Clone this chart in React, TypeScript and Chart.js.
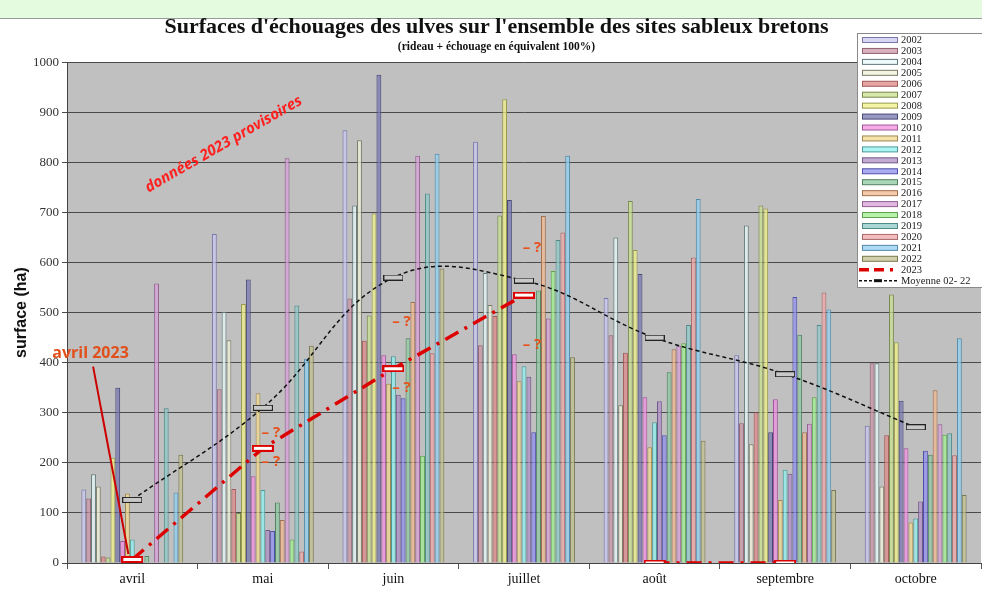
import React, { useEffect, useRef } from 'react';
import { Chart, registerables } from 'chart.js';

Chart.register(...registerables);

const months = ['avril', 'mai', 'juin', 'juillet', 'août', 'septembre', 'octobre'];
const years = ['2002', '2003', '2004', '2005', '2006', '2007', '2008', '2009', '2010', '2011', '2012',
  '2013', '2014', '2015', '2016', '2017', '2018', '2019', '2020', '2021', '2022'];

// values per month, one entry per year 2002..2022
const avrilValues = [147, 129, 177, 153, 13, 11, 210, 350, 44, 139, 47, 2, 2, 14, 0, 558, 1, 309, 0, 141, 216];
const maiValues = [657, 347, 501, 445, 148, 100, 517, 566, 173, 339, 146, 66, 64, 121, 86, 808, 47, 514, 23, 408, 434];
const juinValues = [864, 528, 714, 844, 444, 494, 698, 975, 415, 358, 413, 336, 329, 449, 521, 813, 214, 738, 419, 817, 588];
const juilletValues = [841, 435, 579, 515, 493, 694, 926, 725, 417, 363, 393, 372, 261, 544, 693, 488, 583, 645, 660, 813, 411];
const aoutValues = [529, 455, 650, 315, 420, 723, 625, 577, 331, 231, 281, 323, 255, 381, 427, 434, 439, 475, 610, 727, 244];
const septembreValues = [415, 279, 674, 237, 301, 714, 708, 261, 327, 126, 186, 178, 531, 456, 261, 278, 331, 475, 540, 506, 146];
const octobreValues = [274, 399, 399, 153, 255, 536, 441, 324, 229, 81, 89, 123, 224, 216, 345, 277, 256, 259, 215, 449, 136];

const values2023 = [7, 229, 388, 535, 0, 0, null];
const moyenneValues = [126, 310, 570, 564, 450, 377, 271];

const yTickValues = [0, 100, 200, 300, 400, 500, 600, 700, 800, 900, 1000];

// annotation texts "– ?" : month and level
const questionMonths = ['mai', 'mai', 'juin', 'juin', 'juillet', 'juillet'];
const questionLevels = [260, 202, 482, 350, 630, 436];

const fillColors = ['#c8c8f0', '#c898a8', '#e8f8f8', '#f0f0d8', '#e08888', '#c8e090', '#f0f088', '#7878b0',
  '#f090e0', '#f0d890', '#90f0f0', '#b090c8', '#9090f0', '#90c8a0', '#f0b890', '#d8a0d8', '#a0f090',
  '#90c8c8', '#f0a8a8', '#90d0f0', '#c0c090'];
const borderColors = ['#7878a8', '#906070', '#607878', '#787868', '#a05858', '#788848', '#989850', '#484878',
  '#a05898', '#a08850', '#509898', '#705888', '#5050a8', '#508060', '#a07050', '#906090', '#60a050',
  '#508888', '#a86868', '#5088a8', '#787850'];

const monthValues = [avrilValues, maiValues, juinValues, juilletValues, aoutValues, septembreValues, octobreValues];

function rectMarker(w: number, h: number, stroke: string, fill: string, lw: number) {
  const c = document.createElement('canvas');
  c.width = w;
  c.height = h;
  const x = c.getContext('2d')!;
  x.fillStyle = fill;
  x.fillRect(0, 0, w, h);
  x.strokeStyle = stroke;
  x.lineWidth = lw;
  x.strokeRect(lw / 2, lw / 2, w - lw, h - lw);
  return c;
}

export default function App() {
  const ref = useRef<HTMLCanvasElement>(null);

  useEffect(() => {
    if (!ref.current) return;
    const marker2023 = rectMarker(22, 7, '#dd0000', '#ffffff', 2);
    const markerMoy = rectMarker(20, 6, '#222222', '#c8c8c8', 1);

    const barSets = years.map((y, i) => ({
      type: 'bar' as const,
      label: y,
      data: monthValues.map((m) => m[i]),
      backgroundColor: fillColors[i] + 'c0',
      borderColor: borderColors[i],
      borderWidth: 1,
      order: 2,
      categoryPercentage: 0.78,
      barPercentage: 1.0,
    }));

    const line2023 = {
      type: 'line' as const,
      label: '2023',
      data: values2023,
      borderColor: '#dd0000',
      borderWidth: 3.5,
      borderDash: [15, 7, 3, 7],
      pointStyle: marker2023 as any,
      pointRadius: 6,
      tension: 0,
      order: 0,
      segment: {
        borderColor: (ctx: any) => (ctx.p0DataIndex === 3 ? 'rgba(0,0,0,0)' : undefined),
      },
    };

    const lineMoy = {
      type: 'line' as const,
      label: 'Moyenne 02- 22',
      data: moyenneValues,
      borderColor: '#111111',
      borderWidth: 1.5,
      borderDash: [4, 3],
      pointStyle: markerMoy as any,
      pointRadius: 6,
      tension: 0.4,
      order: 1,
    };

    const bgPlugin = {
      id: 'plotBg',
      beforeDraw(chart: any) {
        const { ctx, chartArea: a } = chart;
        ctx.save();
        ctx.fillStyle = '#c0c0c0';
        ctx.fillRect(a.left, a.top, a.right - a.left, a.bottom - a.top);
        ctx.restore();
      },
    };

    const annotPlugin = {
      id: 'annots',
      afterDatasetsDraw(chart: any) {
        const { ctx } = chart;
        const xs = chart.scales.x;
        const ys = chart.scales.y;
        ctx.save();
        ctx.fillStyle = '#e8501c';
        ctx.font = 'bold 15px "Open Sans", sans-serif';
        ctx.textAlign = 'center';
        ctx.textBaseline = 'middle';
        questionMonths.forEach((m, i) => {
          const x = xs.getPixelForValue(months.indexOf(m)) + 8;
          const y = ys.getPixelForValue(questionLevels[i]);
          ctx.fillText('– ?', x, y);
        });
        const ax = xs.getPixelForValue(-0.32);
        const ay = ys.getPixelForValue(418);
        ctx.fillStyle = '#e0501c';
        ctx.font = 'bold 16px "Open Sans", sans-serif';
        ctx.fillText('avril 2023', ax, ay);
        ctx.strokeStyle = '#cc0000';
        ctx.lineWidth = 2;
        ctx.beginPath();
        ctx.moveTo(xs.getPixelForValue(-0.3), ys.getPixelForValue(392));
        ctx.lineTo(xs.getPixelForValue(-0.03), ys.getPixelForValue(18));
        ctx.stroke();
        ctx.translate(xs.getPixelForValue(0.7), ys.getPixelForValue(836));
        ctx.rotate(-30 * Math.PI / 180);
        ctx.fillStyle = '#ff2020';
        ctx.font = 'italic bold 15px "Open Sans", sans-serif';
        ctx.fillText('données 2023 provisoires', 0, 0);
        ctx.restore();
      },
    };

    const legendPlugin = {
      id: 'floatLegend',
      afterDraw(chart: any) {
        const { ctx } = chart;
        const lx = 857;
        const ly = 33;
        const lw = 125;
        const lh = 254;
        const step = 10.94;
        ctx.save();
        ctx.fillStyle = '#ffffff';
        ctx.fillRect(lx, ly, lw, lh);
        ctx.strokeStyle = '#8a8a8a';
        ctx.lineWidth = 1;
        ctx.strokeRect(lx + 0.5, ly + 0.5, lw, lh);
        ctx.font = '10.5px "Liberation Serif", serif';
        ctx.textAlign = 'left';
        ctx.textBaseline = 'middle';
        years.forEach((yr, i) => {
          const y = ly + 7 + i * step;
          ctx.fillStyle = fillColors[i] + 'c0';
          ctx.fillRect(862, y - 2.5, 35, 5);
          ctx.strokeStyle = borderColors[i];
          ctx.strokeRect(862.5, y - 2.5, 35, 5);
          ctx.fillStyle = '#222';
          ctx.fillText(yr, 901, y + 0.5);
        });
        let y = ly + 7 + 21 * step;
        ctx.strokeStyle = '#dd0000';
        ctx.lineWidth = 3.5;
        ctx.setLineDash([10, 5, 10, 6, 3, 10]);
        ctx.beginPath();
        ctx.moveTo(859, y);
        ctx.lineTo(897, y);
        ctx.stroke();
        ctx.setLineDash([]);
        ctx.fillStyle = '#222';
        ctx.fillText('2023', 901, y + 0.5);
        y = ly + 7 + 22 * step;
        ctx.strokeStyle = '#111';
        ctx.lineWidth = 1.5;
        ctx.setLineDash([3, 2]);
        ctx.beginPath();
        ctx.moveTo(859, y);
        ctx.lineTo(897, y);
        ctx.stroke();
        ctx.setLineDash([]);
        ctx.fillStyle = '#111';
        ctx.fillRect(874, y - 1.5, 8, 3);
        ctx.fillStyle = '#222';
        ctx.fillText('Moyenne 02- 22', 901, y + 0.5);
        ctx.restore();
      },
    };

    const chart = new Chart(ref.current, {
      type: 'bar',
      data: {
        labels: months,
        datasets: [line2023 as any, lineMoy as any, ...barSets],
      },
      options: {
        animation: false,
        responsive: false,
        layout: { autoPadding: false, padding: { left: 12, right: 1, top: 0, bottom: 0 } },
        plugins: {
          legend: { display: false },
          tooltip: { enabled: false },
          title: {
            display: true,
            text: "Surfaces d'échouages des ulves sur l'ensemble des sites sableux bretons",
            font: { family: '"Liberation Serif", serif', size: 22, weight: 'bold' },
            color: '#111',
            padding: { top: 14, bottom: 0 },
          },
          subtitle: {
            display: true,
            text: '(rideau + échouage en équivalent 100%)',
            font: { family: '"Liberation Serif", serif', size: 11.5, weight: 'bold' },
            color: '#111',
            padding: { top: 0, bottom: 8 },
          },
        },
        scales: {
          x: {
            offset: true,
            grid: { display: true, drawOnChartArea: false, offset: true, tickLength: 6, color: '#555' },
            border: { display: true, color: '#444' },
            ticks: { font: { family: '"Liberation Serif", serif', size: 14 }, color: '#111', padding: 2 },
            afterFit: (s: any) => { s.height = 32; s.paddingLeft = 0; s.paddingRight = 0; },
          },
          y: {
            min: 0,
            max: 1000,
            afterBuildTicks: (s: any) => { s.ticks = yTickValues.map((v) => ({ value: v })); },
            grid: { color: '#4a4a4a', tickLength: 5 },
            border: { display: true, color: '#444' },
            ticks: {
              font: { family: '"Liberation Serif", serif', size: 13 },
              color: '#333',
              padding: 3,
              callback: (v: any) => String(v),
            },
            title: {
              display: true,
              text: 'surface (ha)',
              font: { family: '"Liberation Sans", sans-serif', size: 16, weight: 'bold' },
              color: '#111',
              padding: { top: 0, bottom: 4 },
            },
            afterFit: (s: any) => { s.width = 55; },
          },
        },
      },
      plugins: [bgPlugin, annotPlugin, legendPlugin],
    });
    return () => chart.destroy();
  }, []);

  return (
    <div style={{ position: 'absolute', left: 0, top: 0, width: 982, height: 595, background: '#ffffff', overflow: 'hidden' }}>
      <div style={{ position: 'absolute', left: 0, top: 0, width: 982, height: 18, background: '#e4fbe0', borderBottom: '1px solid #9a9a9a' }} />
      <canvas ref={ref} width={982} height={595} style={{ position: 'absolute', left: 0, top: 0 }} />
    </div>
  );
}
